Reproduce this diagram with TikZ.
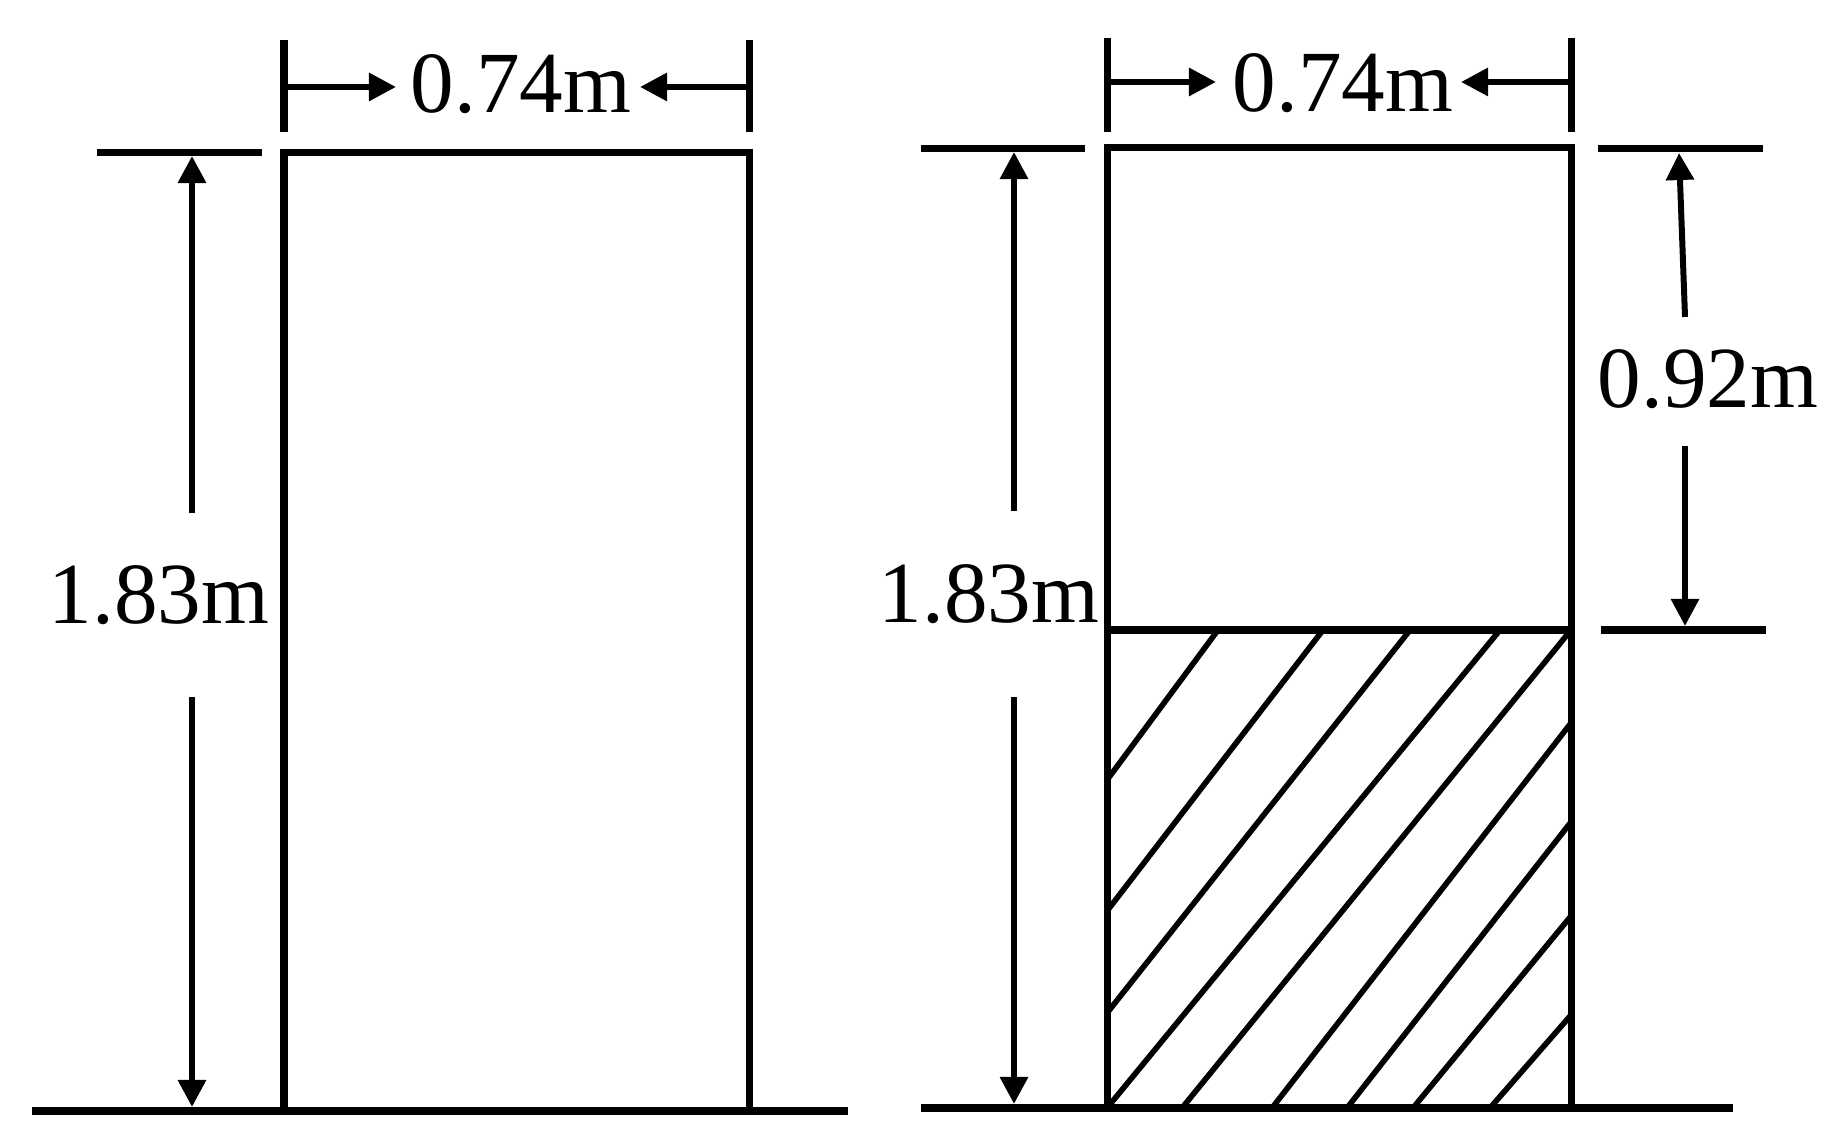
\documentclass[tikz,border=0pt]{standalone}
\usepackage{fontspec}
\setmainfont{Liberation Serif}
\usetikzlibrary{arrows.meta}
\tikzset{wall/.style={line width=2pt}, dimtick/.style={line width=2pt}, hatch/.style={line width=1.6pt},
  dimline/.style={line width=1.7pt, -{Triangle[length=7.7pt,width=7.7pt]}},
  meas/.style={font=\fontsize{24.8}{30}\selectfont, inner sep=0pt, anchor=base}}

\begin{document}
\begin{tikzpicture}
      \useasboundingbox (0,0) rectangle (18.4,11.44);
      % empty column
      \coordinate (lbl) at (2.84,0.33);
      \coordinate (ltr) at (7.49,9.91);
      \draw [wall] (0.32,0.33) -- (8.48,0.33);
      \draw [wall] (lbl) rectangle (ltr);
      \draw [wall] (0.97,9.91) -- (2.62,9.91);
      \draw [dimtick] (2.84,10.12) -- (2.84,11.04);
      \draw [dimtick] (7.49,10.12) -- (7.49,11.04);
      \node [meas] (lw) at (5.21,10.31) {0.74m};
      \node [meas] (lh) at (1.59,5.20) {1.83m};
      \coordinate (lwa) at (3.96,10.57);
      \coordinate (lwb) at (6.40,10.57);
      \coordinate (lha) at (1.92,6.31);
      \coordinate (lhb) at (1.92,4.47);
      \draw [dimline] (2.84,10.57) -- (lwa);
      \draw [dimline] (7.49,10.57) -- (lwb);
      \draw [dimline] (lha) -- (1.92,9.88);
      \draw [dimline] (lhb) -- (1.92,0.37);
      % half filled column
      \foreach \xa/\ya/\xb/\yb in {11.07/3.64/12.18/5.14, 11.07/2.33/13.23/5.14, 11.07/1.31/14.10/5.14,
        11.07/0.36/15.00/5.14, 11.82/0.36/15.71/5.14, 12.72/0.36/15.71/4.21, 13.47/0.36/15.71/3.22,
        14.13/0.36/15.71/2.28, 14.90/0.36/15.71/1.29}
        \draw [hatch] (\xa,\ya) -- (\xb,\yb);
      \coordinate (rbl) at (11.07,0.36);
      \coordinate (rtr) at (15.71,9.96);
      \coordinate (rmid) at (11.07,5.14);
      \draw [wall] (9.21,0.36) -- (17.33,0.36);
      \draw [wall] (rbl) rectangle (rtr);
      \draw [wall] (rmid) -- (15.71,5.14);
      \draw [wall] (9.21,9.95) -- (10.85,9.95);
      \draw [wall] (15.98,9.95) -- (17.63,9.95);
      \draw [wall] (16.01,5.14) -- (17.66,5.14);
      \draw [dimtick] (11.07,10.12) -- (11.07,11.06);
      \draw [dimtick] (15.71,10.12) -- (15.71,11.06);
      \node [meas] (rw) at (13.43,10.32) {0.74m};
      \node [meas] (rh) at (9.89,5.21) {1.83m};
      \node [meas] (rf) at (17.08,7.36) {0.92m};
      \draw [dimline] (11.07,10.62) -- (12.16,10.62);
      \draw [dimline] (15.71,10.62) -- (14.61,10.62);
      \draw [dimline] (10.14,6.33) -- (10.14,9.92);
      \draw [dimline] (10.14,4.47) -- (10.14,0.40);
      \draw [dimline] (16.85,8.27) -- (16.79,9.91);
      \draw [dimline] (16.85,6.98) -- (16.85,5.18);
    \end{tikzpicture}
\end{document}
